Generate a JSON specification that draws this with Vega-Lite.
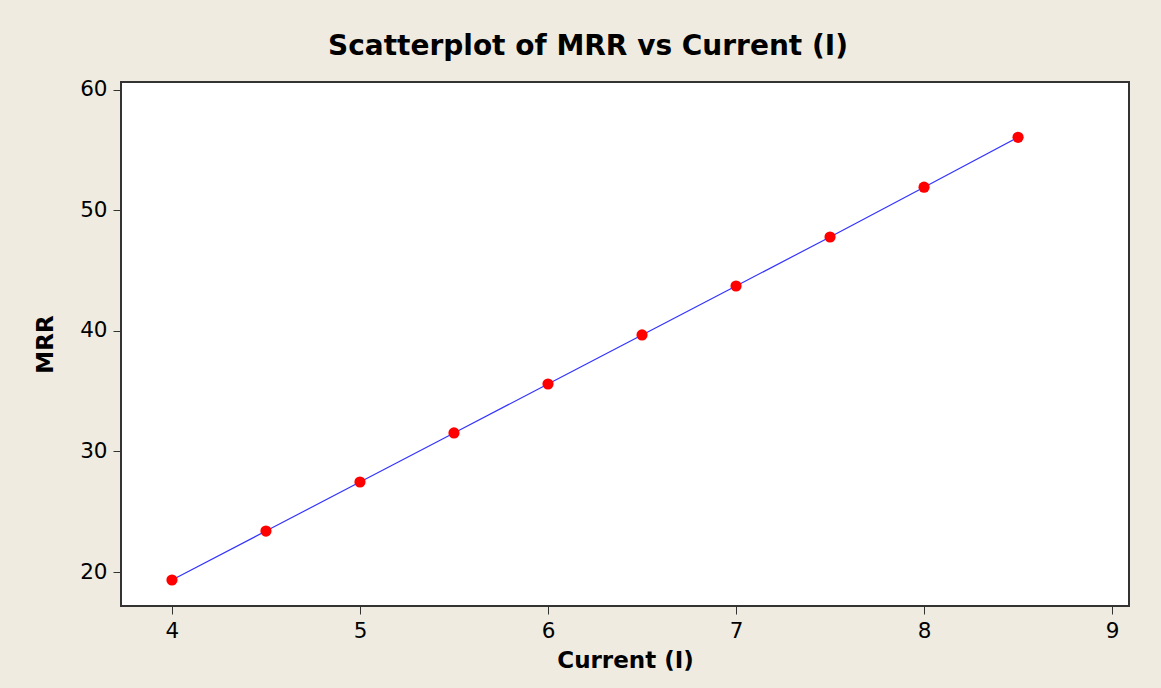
{
  "$schema": "https://vega.github.io/schema/vega-lite/v6.json",
  "width": 1008,
  "height": 524,
  "autosize": {"type": "none"},
  "padding": {"left": 121, "top": 82, "right": 32, "bottom": 82},
  "background": "#EFEBE1",
  "title": {
    "text": "Scatterplot of MRR vs Current (I)",
    "font": "DejaVu Sans",
    "fontSize": 28,
    "fontWeight": "bold",
    "color": "#000000",
    "anchor": "middle",
    "dx": -37,
    "offset": 18
  },
  "config": {
    "view": {"stroke": "#333333", "strokeWidth": 2, "fill": "#FFFFFF"},
    "axis": {
      "labelFont": "DejaVu Sans",
      "labelFontSize": 21.5,
      "labelColor": "#000000",
      "titleFont": "DejaVu Sans",
      "titleFontSize": 23,
      "titleFontWeight": "bold",
      "titleColor": "#000000",
      "tickColor": "#333333",
      "tickSize": 8,
      "domain": false,
      "grid": false,
      "labelPadding": 6
    }
  },
  "data": {
    "values": [
      {"current": 4.0, "mrr": 19.34},
      {"current": 4.5, "mrr": 23.40},
      {"current": 5.0, "mrr": 27.47},
      {"current": 5.5, "mrr": 31.54},
      {"current": 6.0, "mrr": 35.60},
      {"current": 6.5, "mrr": 39.67},
      {"current": 7.0, "mrr": 43.73},
      {"current": 7.5, "mrr": 47.80},
      {"current": 8.0, "mrr": 51.93},
      {"current": 8.5, "mrr": 56.07}
    ]
  },
  "encoding": {
    "x": {
      "field": "current",
      "type": "quantitative",
      "title": "Current (I)",
      "scale": {"domain": [3.729, 9.09], "nice": false, "zero": false},
      "axis": {"values": [4, 5, 6, 7, 8, 9], "titlePadding": 8}
    },
    "y": {
      "field": "mrr",
      "type": "quantitative",
      "title": "MRR",
      "scale": {"domain": [17.18, 60.66], "nice": false, "zero": false},
      "axis": {"values": [20, 30, 40, 50, 60], "titlePadding": 22}
    }
  },
  "layer": [
    {"mark": {"type": "line", "color": "#3333FF", "strokeWidth": 1.2}},
    {"mark": {"type": "point", "filled": true, "color": "#FF0000", "opacity": 1, "size": 125}}
  ]
}
